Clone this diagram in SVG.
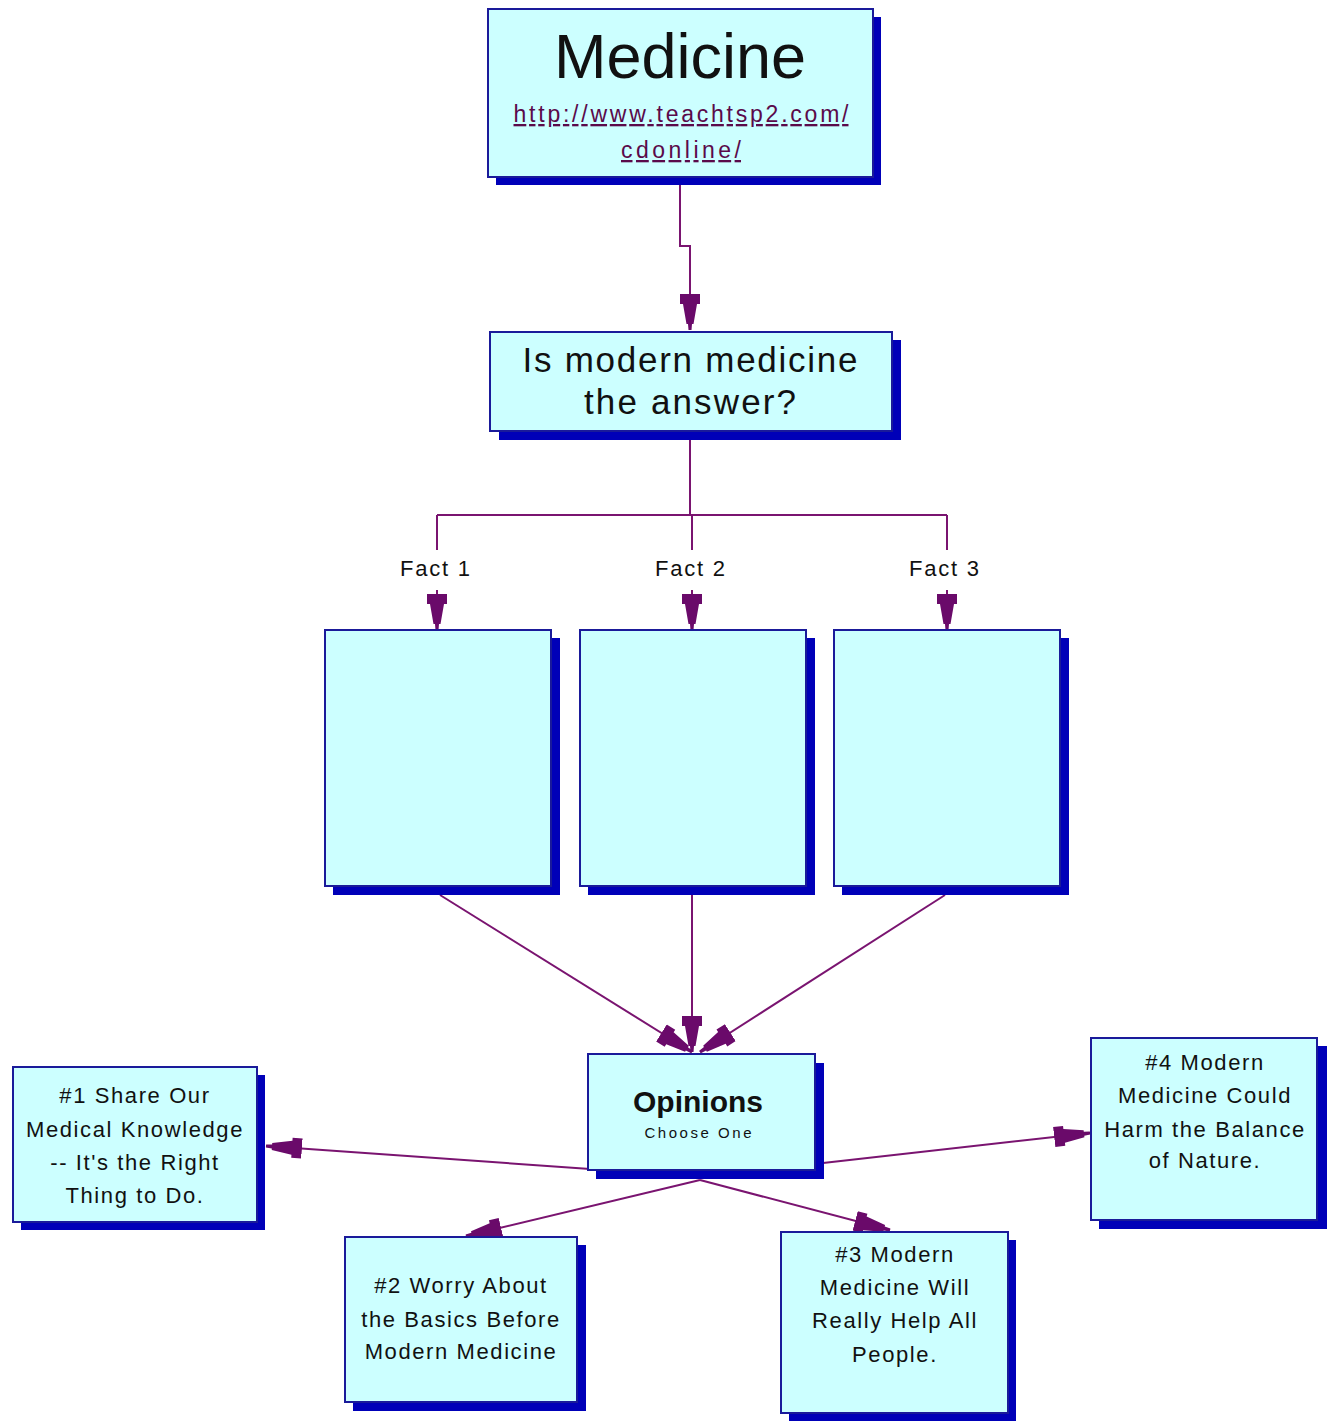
<svg xmlns="http://www.w3.org/2000/svg" width="1330" height="1421" viewBox="0 0 1330 1421">
<style>
.box{fill:#ccffff;stroke:#1a1a9a;stroke-width:2}
.sh{fill:#0000b8}
.t{font-family:"Liberation Sans",Arial,sans-serif;fill:#111;text-anchor:middle}
.opt{font-size:22px;letter-spacing:1.6px}
.ln{fill:none;stroke:#7a1470;stroke-width:2}
.url{fill:#5a0a4a;text-decoration:underline}
</style>
<defs>
<marker id="ah" markerUnits="userSpaceOnUse" markerWidth="40" markerHeight="24" viewBox="0 -12 40 24" refX="36" refY="0" orient="auto">
<path d="M0,-10 L10,-10 L10,-7 L30,-3.5 L30,-2 L36,-1.5 L36,1.5 L30,2 L30,3.5 L10,7 L10,10 L0,10 Z" fill="#6a0a6a"/>
</marker>
</defs>
<rect width="1330" height="1421" fill="#ffffff"/>

<g id="connectors">
<path class="ln" d="M680,182 V246 H690 V330" marker-end="url(#ah)"/>
<path class="ln" d="M690,440 V515"/>
<path class="ln" d="M437,515 H947"/>
<path class="ln" d="M437,515 V550"/>
<path class="ln" d="M692,515 V550"/>
<path class="ln" d="M947,515 V550"/>
<path class="ln" d="M437,590 V630" marker-end="url(#ah)"/>
<path class="ln" d="M692,590 V630" marker-end="url(#ah)"/>
<path class="ln" d="M947,590 V630" marker-end="url(#ah)"/>
<path class="ln" d="M440,895 L692,1052" marker-end="url(#ah)"/>
<path class="ln" d="M692,895 V1052" marker-end="url(#ah)"/>
<path class="ln" d="M945,895 L700,1052" marker-end="url(#ah)"/>
<path class="ln" d="M590,1169 L266,1146" marker-end="url(#ah)"/>
<path class="ln" d="M700,1180 L466,1236" marker-end="url(#ah)"/>
<path class="ln" d="M700,1180 L890,1230" marker-end="url(#ah)"/>
<path class="ln" d="M823,1163 L1090,1133" marker-end="url(#ah)"/>
<text class="t" x="435" y="576" font-size="22" textLength="70">Fact 1</text>
<text class="t" x="690" y="576" font-size="22" textLength="70">Fact 2</text>
<text class="t" x="944" y="576" font-size="22" textLength="70">Fact 3</text>
</g>

<g id="medicine">
<rect class="sh" x="496" y="17" width="385" height="168"/>
<rect class="box" x="488" y="9" width="385" height="168"/>
<text class="t" x="680" y="78" font-size="63">Medicine</text>
<text class="t url" x="681" y="122" font-size="23" textLength="335" lengthAdjust="spacing">http://www.teachtsp2.com/</text>
<text class="t url" x="681" y="158" font-size="23" textLength="120" lengthAdjust="spacing">cdonline/</text>
</g>

<g id="question">
<rect class="sh" x="499" y="340" width="402" height="100"/>
<rect class="box" x="490" y="332" width="402" height="99"/>
<text class="t" x="690" y="372" font-size="35" textLength="335" lengthAdjust="spacing">Is modern medicine</text>
<text class="t" x="690" y="414" font-size="35" textLength="212" lengthAdjust="spacing">the answer?</text>
</g>

<g id="fact1">
<rect class="sh" x="333" y="638" width="227" height="257"/>
<rect class="box" x="325" y="630" width="226" height="256"/>
</g>
<g id="fact2">
<rect class="sh" x="588" y="638" width="227" height="257"/>
<rect class="box" x="580" y="630" width="226" height="256"/>
</g>
<g id="fact3">
<rect class="sh" x="842" y="638" width="227" height="257"/>
<rect class="box" x="834" y="630" width="226" height="256"/>
</g>

<g id="opinions">
<rect class="sh" x="596" y="1063" width="228" height="116"/>
<rect class="box" x="588" y="1054" width="227" height="116"/>
<text class="t" x="698" y="1112" font-size="30" font-weight="bold">Opinions</text>
<text class="t" x="698" y="1138" font-size="15" textLength="107" lengthAdjust="spacing">Choose One</text>
</g>

<g id="opt1">
<rect class="sh" x="21" y="1075" width="244" height="155"/>
<rect class="box" x="13" y="1067" width="244" height="155"/>
<text class="t opt" x="135" y="1103">#1 Share Our</text>
<text class="t opt" x="135" y="1137">Medical Knowledge</text>
<text class="t opt" x="135" y="1170">-- It's the Right</text>
<text class="t opt" x="135" y="1203">Thing to Do.</text>
</g>

<g id="opt2">
<rect class="sh" x="353" y="1245" width="233" height="166"/>
<rect class="box" x="345" y="1237" width="232" height="165"/>
<text class="t opt" x="461" y="1293">#2 Worry About</text>
<text class="t opt" x="461" y="1327">the Basics Before</text>
<text class="t opt" x="461" y="1359">Modern Medicine</text>
</g>

<g id="opt3">
<rect class="sh" x="789" y="1240" width="227" height="181"/>
<rect class="box" x="781" y="1232" width="227" height="181"/>
<text class="t opt" x="895" y="1262">#3 Modern</text>
<text class="t opt" x="895" y="1295">Medicine Will</text>
<text class="t opt" x="895" y="1328">Really Help All</text>
<text class="t opt" x="895" y="1362">People.</text>
</g>

<g id="opt4">
<rect class="sh" x="1099" y="1046" width="228" height="183"/>
<rect class="box" x="1091" y="1038" width="226" height="182"/>
<text class="t opt" x="1205" y="1070">#4 Modern</text>
<text class="t opt" x="1205" y="1103">Medicine Could</text>
<text class="t opt" x="1205" y="1137">Harm the Balance</text>
<text class="t opt" x="1205" y="1168">of Nature.</text>
</g>
</svg>
